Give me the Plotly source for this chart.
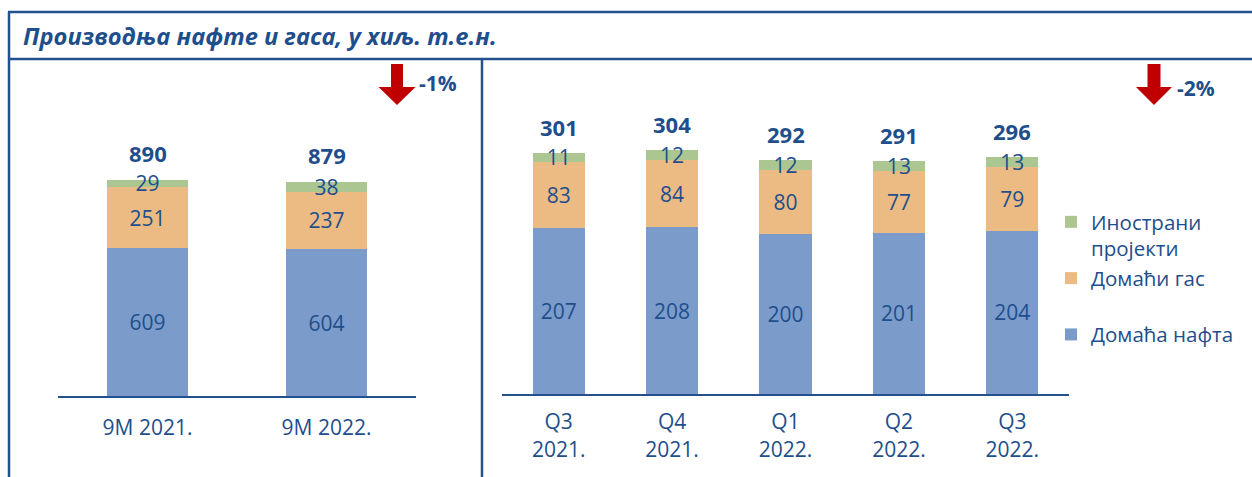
import plotly.graph_objects as go

W, H = 1252, 477

# ---- data ----
cats_left = ["9M 2021.", "9M 2022."]
oil_left = [609, 604]
gas_left = [251, 237]
foreign_left = [29, 38]
total_left = [890, 879]

cats_right = ["Q3<br>2021.", "Q4<br>2021.", "Q1<br>2022.", "Q2<br>2022.", "Q3<br>2022."]
oil_right = [207, 208, 200, 201, 204]
gas_right = [83, 84, 80, 77, 79]
foreign_right = [11, 12, 12, 13, 13]
total_right = [301, 304, 292, 291, 296]

series_names = ["Домаћа нафта", "Домаћи гас<br>&nbsp;", "Инострани<br>пројекти"]
colors = ["#7B9BCB", "#EBBB83", "#ABC691"]

title_text = "Производња нафте и гаса, у хиљ. т.е.н."
change_left = "-1%"
change_right = "-2%"

TXT = "#1F4E8C"
LINE = "#24508F"
FONT = "Open Sans"


def px(x):
    return x / W


def py(y):
    return 1 - y / H


fig = go.Figure()

left_series = [oil_left, gas_left, foreign_left]
right_series = [oil_right, gas_right, foreign_right]

for i in range(3):
    fig.add_trace(go.Bar(
        x=cats_left, y=left_series[i], name=series_names[i],
        marker=dict(color=colors[i], line=dict(width=0)),
        width=0.45, xaxis="x", yaxis="y", showlegend=False,
        text=left_series[i], textposition="inside", insidetextanchor="middle",
        constraintext="none", textangle=0,
        insidetextfont=dict(family=FONT, size=21, color=TXT),
        hoverinfo="skip",
    ))
    fig.add_trace(go.Bar(
        x=cats_right, y=right_series[i], name=series_names[i],
        marker=dict(color=colors[i], line=dict(width=0)),
        width=0.46, xaxis="x2", yaxis="y2", showlegend=True,
        text=right_series[i], textposition="inside", insidetextanchor="middle",
        constraintext="none", textangle=0,
        insidetextfont=dict(family=FONT, size=21, color=TXT),
        hoverinfo="skip",
    ))

annotations = []
for c, t in zip(cats_left, total_left):
    annotations.append(dict(x=c, y=t, xref="x", yref="y", text=f"<b>{t}</b>",
                            showarrow=False, yanchor="bottom", yshift=10,
                            font=dict(family=FONT, size=22, color=TXT)))
for c, t in zip(cats_right, total_right):
    annotations.append(dict(x=c, y=t, xref="x2", yref="y2", text=f"<b>{t}</b>",
                            showarrow=False, yanchor="bottom", yshift=9,
                            font=dict(family=FONT, size=22, color=TXT)))

annotations.append(dict(x=px(21), y=py(36), xref="paper", yref="paper",
                        text=f"<b><i>{title_text}</i></b>", showarrow=False,
                        xanchor="left", yanchor="middle",
                        font=dict(family=FONT, size=23.7, color=TXT)))
annotations.append(dict(x=px(417), y=py(83), xref="paper", yref="paper",
                        text=f"<b>{change_left}</b>", showarrow=False,
                        xanchor="left", yanchor="middle",
                        font=dict(family=FONT, size=21, color=TXT)))
annotations.append(dict(x=px(1175), y=py(88), xref="paper", yref="paper",
                        text=f"<b>{change_right}</b>", showarrow=False,
                        xanchor="left", yanchor="middle",
                        font=dict(family=FONT, size=21, color=TXT)))


def arrow_path(cx, top, shaft_half, head_half, head_top, tip):
    pts = [(cx - shaft_half, top), (cx + shaft_half, top), (cx + shaft_half, head_top),
           (cx + head_half, head_top), (cx, tip), (cx - head_half, head_top),
           (cx - shaft_half, head_top)]
    s = "M " + " L ".join(f"{px(a):.5f},{py(b):.5f}" for a, b in pts) + " Z"
    return s


shapes = [
    dict(type="path", xref="paper", yref="paper",
         path=arrow_path(397, 64, 6, 18.5, 87, 105),
         fillcolor="#C00000", line=dict(width=0)),
    dict(type="path", xref="paper", yref="paper",
         path=arrow_path(1154, 64, 6.5, 18, 87, 105),
         fillcolor="#C00000", line=dict(width=0)),
    # frame lines
    dict(type="line", xref="paper", yref="paper", x0=px(8), x1=1.01, y0=py(12), y1=py(12),
         line=dict(color=LINE, width=2.5)),
    dict(type="line", xref="paper", yref="paper", x0=px(9), x1=px(9), y0=py(12), y1=-0.01,
         line=dict(color=LINE, width=2.5)),
    dict(type="line", xref="paper", yref="paper", x0=px(8), x1=1.01, y0=py(59), y1=py(59),
         line=dict(color=LINE, width=2.5)),
    dict(type="line", xref="paper", yref="paper", x0=px(482), x1=px(482), y0=py(59), y1=-0.01,
         line=dict(color=LINE, width=2.5)),
]

axis_common = dict(showgrid=False, zeroline=False, showline=True, linecolor=LINE,
                   linewidth=2, ticks="outside", tickcolor="rgba(0,0,0,0)",
                   tickfont=dict(family=FONT, size=21, color=TXT), fixedrange=True)

fig.update_layout(
    width=W, height=H,
    margin=dict(l=0, r=0, t=0, b=0),
    paper_bgcolor="white", plot_bgcolor="white",
    barmode="stack", bargap=0.5,
    showlegend=True,
    legend=dict(x=px(1051), y=py(202), xanchor="left", yanchor="top",
                traceorder="reversed", valign="top",
                font=dict(family=FONT, size=20.5, color=TXT),
                bgcolor="rgba(0,0,0,0)", itemclick=False, itemdoubleclick=False),
    xaxis=dict(domain=[px(58), px(416)], anchor="y", ticklen=12, **axis_common),
    yaxis=dict(domain=[py(396), py(100)], range=[0, 1218], visible=False, anchor="x"),
    xaxis2=dict(domain=[px(502), px(1069)], anchor="y2", ticklen=8, **axis_common),
    yaxis2=dict(domain=[py(394), py(100)], range=[0, 367], visible=False, anchor="x2"),
    annotations=annotations,
    shapes=shapes,
)

fig.write_html("out.html", config={"displayModeBar": False},
               post_script="document.body.style.margin='0';document.body.style.overflow='hidden';")
